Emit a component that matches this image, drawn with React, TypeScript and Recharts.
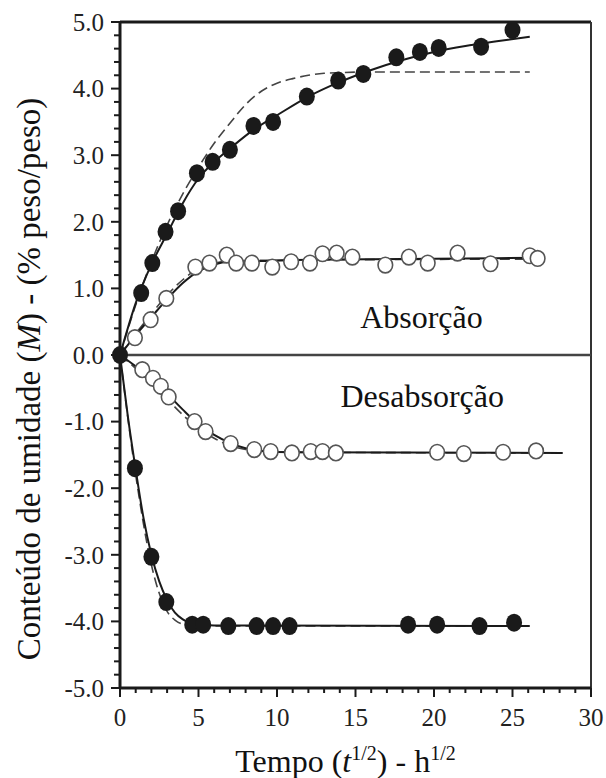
import React from "react";
import {
  ComposedChart,
  Line,
  Scatter,
  XAxis,
  YAxis,
  ReferenceLine,
  ReferenceDot,
} from "recharts";

const FONT = '"Liberation Serif", "Times New Roman", serif';
const INK = "#1a1a1a";

// Absorção - pontos cheios
const absCheioX = [0, 1.35, 2.06, 2.9, 3.7, 4.9, 5.9, 7.0, 8.5, 9.75, 11.9, 13.9, 15.5, 17.6, 19.1, 20.3, 23.0, 25.0];
const absCheioY = [0, 0.93, 1.38, 1.85, 2.16, 2.73, 2.9, 3.08, 3.44, 3.5, 3.88, 4.12, 4.22, 4.47, 4.55, 4.61, 4.63, 4.88];

// Absorção - pontos vazios
const absVazioX = [0.95, 1.95, 2.95, 4.8, 5.7, 6.8, 7.4, 8.4, 9.7, 10.9, 12.1, 12.9, 13.8, 14.8, 16.9, 18.4, 19.6, 21.5, 23.6, 26.1, 26.6];
const absVazioY = [0.26, 0.53, 0.85, 1.32, 1.38, 1.5, 1.38, 1.38, 1.32, 1.4, 1.38, 1.52, 1.53, 1.47, 1.35, 1.47, 1.38, 1.53, 1.37, 1.49, 1.45];

// Desabsorção - pontos vazios
const desVazioX = [1.42, 2.1, 2.6, 3.1, 4.75, 5.45, 7.05, 8.55, 9.6, 10.95, 12.15, 12.9, 13.75, 20.2, 21.9, 24.4, 26.5];
const desVazioY = [-0.22, -0.35, -0.47, -0.63, -1.0, -1.15, -1.33, -1.42, -1.45, -1.47, -1.45, -1.45, -1.47, -1.46, -1.48, -1.46, -1.44];

// Desabsorção - pontos cheios
const desCheioX = [0.95, 2.0, 2.95, 4.6, 5.3, 6.9, 8.7, 9.75, 10.8, 18.35, 20.2, 22.9, 25.1];
const desCheioY = [-1.7, -3.03, -3.71, -4.05, -4.05, -4.07, -4.07, -4.07, -4.07, -4.05, -4.05, -4.07, -4.02];

// curvas ajustadas
const fitAbsCheioX = [0, 1, 2, 3, 4, 5, 6, 7, 8.5, 10, 12, 14, 16, 18, 20, 22, 24, 26.1];
const fitAbsCheioY = [0, 0.78, 1.36, 1.82, 2.28, 2.65, 2.9, 3.1, 3.38, 3.6, 3.88, 4.1, 4.28, 4.43, 4.55, 4.64, 4.71, 4.78];
const dashAbsCheioX = [0, 1, 2, 3, 4, 5, 6, 7, 8, 9, 10, 11, 12, 13, 14, 16, 26.1];
const dashAbsCheioY = [0, 0.75, 1.4, 1.95, 2.42, 2.82, 3.18, 3.48, 3.76, 3.96, 4.08, 4.15, 4.2, 4.23, 4.24, 4.25, 4.25];

const fitAbsVazioX = [0, 1, 2, 3, 4, 5, 6, 7, 9, 12, 18, 26.8];
const fitAbsVazioY = [0, 0.3, 0.57, 0.84, 1.08, 1.26, 1.36, 1.4, 1.41, 1.43, 1.44, 1.46];
const dashAbsVazioX = [0, 1, 2, 3, 4, 5, 6, 8, 26.8];
const dashAbsVazioY = [0, 0.32, 0.62, 0.9, 1.13, 1.3, 1.38, 1.42, 1.44];

const fitDesVazioX = [0, 1, 2, 3, 4, 5, 6, 7, 8, 9, 11, 28.2];
const fitDesVazioY = [0, -0.17, -0.36, -0.58, -0.82, -1.04, -1.2, -1.32, -1.4, -1.44, -1.46, -1.47];
const dashDesVazioX = [0, 1, 2, 3, 4, 5, 6, 7, 8, 10, 28.2];
const dashDesVazioY = [0, -0.2, -0.42, -0.66, -0.9, -1.1, -1.25, -1.36, -1.42, -1.46, -1.47];

const fitDesCheioX = [0, 0.5, 1, 1.5, 2, 2.5, 3, 3.5, 4, 4.6, 6, 26.1];
const fitDesCheioY = [0, -0.92, -1.72, -2.45, -3.0, -3.4, -3.68, -3.87, -3.97, -4.03, -4.06, -4.07];
const dashDesCheioX = [0, 1, 2, 3, 3.5, 4, 5, 26.1];
const dashDesCheioY = [0, -1.8, -3.15, -3.85, -3.98, -4.04, -4.07, -4.07];

const xTicks = Array.from({ length: 31 }, (_, i) => i);
const yTicks = Array.from({ length: 51 }, (_, i) => Math.round((-5 + i * 0.2) * 10) / 10);

const pts = (xs: number[], ys: number[]) => xs.map((x, i) => ({ x, y: ys[i] }));

const FilledDot = (props: any) => (
  <ellipse cx={props.cx} cy={props.cy} rx={8} ry={9} fill={INK} />
);
const OpenDot = (props: any) => (
  <ellipse cx={props.cx} cy={props.cy} rx={7.3} ry={7.8} fill="#fff" stroke="#555" strokeWidth={1.6} />
);

const YTick = ({ x, y, payload }: any) => {
  const major = Math.abs(payload.value - Math.round(payload.value)) < 1e-6;
  return (
    <g>
      <line x1={x} x2={x - (major ? 9 : 6)} y1={y} y2={y} stroke={INK} strokeWidth={2} />
      {major && (
        <text x={x - 16} y={y} dy="0.35em" textAnchor="end" fontFamily={FONT} fontSize={25} fill="#222">
          {payload.value.toFixed(1)}
        </text>
      )}
    </g>
  );
};

const XTick = ({ x, y, payload }: any) => {
  const major = payload.value % 5 === 0;
  return (
    <g>
      <line x1={x} x2={x} y1={y} y2={y + (major ? 9 : 5)} stroke={INK} strokeWidth={2} />
      {major && (
        <text x={x} y={y + 38} textAnchor="middle" fontFamily={FONT} fontSize={25} fill="#222">
          {payload.value}
        </text>
      )}
    </g>
  );
};

const XTitle = ({ viewBox }: any) => (
  <text
    x={viewBox.x + viewBox.width / 2 - 10}
    y={viewBox.y + 84}
    textAnchor="middle"
    fontFamily={FONT}
    fontSize={32}
    fill="#111"
  >
    Tempo (<tspan fontStyle="italic">t</tspan>
    <tspan dy={-12} fontSize={20}>1/2</tspan>
    <tspan dy={12}>) - h</tspan>
    <tspan dy={-12} fontSize={20}>1/2</tspan>
  </text>
);

const YTitle = () => (
  <text
    transform="translate(40, 379) rotate(-90)"
    textAnchor="middle"
    fontFamily={FONT}
    fontSize={33}
    fill="#111"
  >
    Conteúdo de umidade (<tspan fontStyle="italic">M</tspan>) - (% peso/peso)
  </text>
);

const Anno = ({ viewBox, text }: any) => (
  <text
    x={viewBox.x + viewBox.width / 2}
    y={viewBox.y + viewBox.height / 2}
    textAnchor="middle"
    fontFamily={FONT}
    fontSize={32}
    fill="#111"
  >
    {text}
  </text>
);

const fitLine = (key: string, xs: number[], ys: number[], dashed: boolean) => (
  <Line
    key={key}
    data={pts(xs, ys)}
    dataKey="y"
    type="monotone"
    dot={false}
    activeDot={false}
    stroke={dashed ? "#444" : INK}
    strokeWidth={dashed ? 1.6 : 2}
    strokeDasharray={dashed ? "10 5" : undefined}
    isAnimationActive={false}
  />
);

export default function App() {
  return (
    <div style={{ position: "absolute", left: 0, top: 0, width: 606, height: 778, background: "#fff" }}>
      <ComposedChart width={606} height={778} margin={{ top: 22, right: 15, bottom: 0, left: 0 }}>
        <XAxis
          type="number"
          dataKey="x"
          domain={[0, 30]}
          ticks={xTicks}
          interval={0}
          tick={<XTick />}
          tickLine={false}
          tickSize={0}
          tickMargin={0}
          height={90}
          axisLine={{ stroke: INK, strokeWidth: 3 }}
          label={<XTitle />}
        />
        <YAxis
          type="number"
          domain={[-5, 5]}
          ticks={yTicks}
          interval={0}
          tick={<YTick />}
          tickLine={false}
          tickSize={0}
          tickMargin={0}
          width={120}
          axisLine={{ stroke: INK, strokeWidth: 3 }}
          label={<YTitle />}
        />
        <ReferenceLine y={5} stroke={INK} strokeWidth={3} />
        <ReferenceLine x={30} stroke="#333" strokeWidth={2} />
        <ReferenceLine y={0} stroke="#444" strokeWidth={2.5} />

        {fitLine("d1", dashAbsCheioX, dashAbsCheioY, true)}
        {fitLine("f1", fitAbsCheioX, fitAbsCheioY, false)}
        {fitLine("d2", dashAbsVazioX, dashAbsVazioY, true)}
        {fitLine("f2", fitAbsVazioX, fitAbsVazioY, false)}
        {fitLine("d3", dashDesVazioX, dashDesVazioY, true)}
        {fitLine("f3", fitDesVazioX, fitDesVazioY, false)}
        {fitLine("d4", dashDesCheioX, dashDesCheioY, true)}
        {fitLine("f4", fitDesCheioX, fitDesCheioY, false)}

        <Scatter data={pts(absVazioX, absVazioY)} dataKey="y" shape={OpenDot} isAnimationActive={false} />
        <Scatter data={pts(desVazioX, desVazioY)} dataKey="y" shape={OpenDot} isAnimationActive={false} />
        <Scatter data={pts(desCheioX, desCheioY)} dataKey="y" shape={FilledDot} isAnimationActive={false} />
        <Scatter data={pts(absCheioX, absCheioY)} dataKey="y" shape={FilledDot} isAnimationActive={false} />

        <ReferenceDot x={19.2} y={0.4} r={1} fill="none" stroke="none" label={<Anno text="Absorção" />} />
        <ReferenceDot x={19.25} y={-0.78} r={1} fill="none" stroke="none" label={<Anno text="Desabsorção" />} />
      </ComposedChart>
    </div>
  );
}
